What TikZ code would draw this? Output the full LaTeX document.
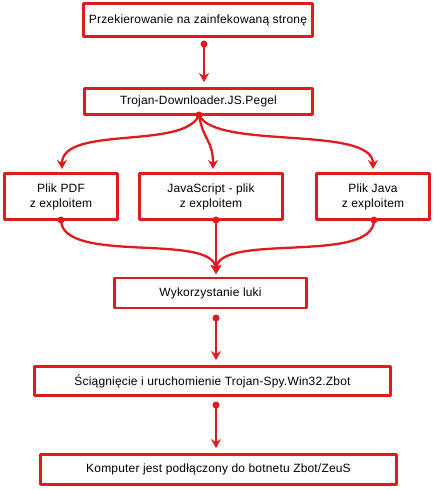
\documentclass[tikz,border=0pt]{standalone}
\usepackage{fontspec}
\setmainfont[LetterSpace=1.5]{Liberation Sans}
\usetikzlibrary{arrows.meta}
\usetikzlibrary{positioning}
\definecolor{flowred}{RGB}{226,26,30}

\begin{document}
\begin{tikzpicture}[line cap=round,line join=round,x=1pt,y=-1pt,
  stepbox/.style={draw=flowred,line width=2.8pt,align=center,inner sep=0pt,font=\fontsize{12}{15}\selectfont},
  link/.style={draw=flowred,line width=2.3pt,-{Stealth[length=9pt,width=10pt]}},
  dot/.style={fill=flowred,draw=none,circle,minimum size=7pt,inner sep=0pt}]
\useasboundingbox (0,0) rectangle (434,490);
% boxes
\node[stepbox,minimum width=229pt,minimum height=33pt] (przek) at (198,20) {Przekierowanie na zainfekowaną stronę};
\node[stepbox,minimum width=228pt,minimum height=26pt] (pegel) at (198.5,101.5) {Trojan-Downloader.JS.Pegel};
\node[stepbox,minimum width=113pt,minimum height=46pt] (pdf) at (61,196.5) {Plik PDF\\z exploitem};
\node[stepbox,minimum width=143pt,minimum height=46pt] (js) at (211,196.5) {JavaScript - plik\\z exploitem};
\node[stepbox,minimum width=113pt,minimum height=46pt] (java) at (373,196.5) {Plik Java\\z exploitem};
\node[stepbox,minimum width=192pt,minimum height=30pt] (luka) at (210.5,293) {Wykorzystanie luki};
\node[stepbox,minimum width=356pt,minimum height=29pt] (zbot) at (212.5,381) {Ściągnięcie i uruchomienie Trojan-Spy.Win32.Zbot};
\node[stepbox,minimum width=356pt,minimum height=30pt] (botnet) at (218.5,469.5) {Komputer jest podłączony do botnetu Zbot/ZeuS};
% dots
\coordinate (d1) at (204,44);
\coordinate (d2) at (199,115);
\coordinate (dpdf) at (61,220);
\coordinate (djs) at (216,220);
\coordinate (djava) at (374,220);
\coordinate (merge) at (216,274);
\coordinate (d3) at (216,318);
\coordinate (d4) at (216,405);
% straight arrows
\draw[link,shorten >=5pt] (d1) -- (d1 |- pegel.north);
\draw[link,shorten >=5pt] (d3) -- (d3 |- zbot.north);
\draw[link,shorten >=5pt] (d4) -- (d4 |- botnet.north);
% fan out
\draw[link,shorten >=4pt] (d2) .. controls (185,150) and (62,125) .. (62,173);
\draw[link,shorten >=4pt] (d2) .. controls (203,140) and (213,140) .. (213,173);
\draw[link,shorten >=4pt] (d2) .. controls (215,150) and (373,125) .. (373,173);
% merge
\draw[link] (dpdf) .. controls (62,265) and (214,232) .. (merge);
\draw[link] (djs) -- (merge);
\draw[link] (djava) .. controls (374,265) and (218,232) .. (merge);
\foreach \d in {d1,d2,dpdf,djs,djava,d3,d4}
  \node[dot] at (\d) {};
\end{tikzpicture}
\end{document}
